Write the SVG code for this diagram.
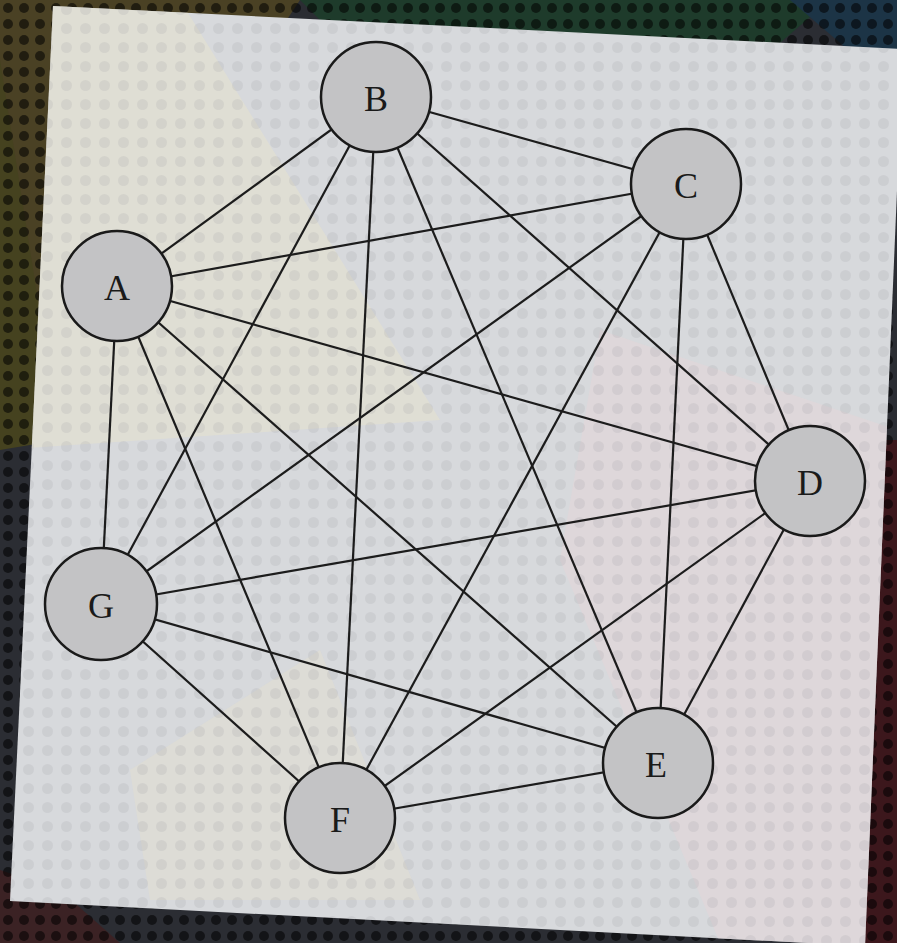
<svg xmlns="http://www.w3.org/2000/svg" width="897" height="943" viewBox="0 0 897 943">
<defs>
<pattern id="dk" width="16" height="16" patternUnits="userSpaceOnUse"><circle cx="8" cy="8" r="5" fill="#000" fill-opacity="0.55"/></pattern>
<pattern id="lt" width="19" height="19" patternUnits="userSpaceOnUse"><circle cx="9.5" cy="9.5" r="5.5" fill="#9a9aa2" fill-opacity="0.18"/></pattern>
<clipPath id="paper"><polygon points="53,6 903,49 865,946 10,901"/></clipPath>
<style>
.edge{stroke:#1c1c1c;stroke-width:2.2;fill:none}
.node circle{fill:#c3c3c5;stroke:#1a1a1a;stroke-width:2.5}
.node text{font-family:"Liberation Serif",serif;font-size:36px;fill:#1a1a1a;text-anchor:middle;dominant-baseline:central}
</style>
</defs>
<rect width="897" height="943" fill="#2b2d33"/>
<polygon points="0,0 300,0 0,450" fill="#4a4124"/>
<polygon points="0,450 0,60 60,440" fill="#45421f"/>
<polygon points="300,0 830,0 760,60 330,30" fill="#1e3b2b"/>
<polygon points="790,0 897,0 897,60 860,60" fill="#1c3446"/>
<polygon points="860,440 897,440 897,943 860,943" fill="#3c171c"/>
<polygon points="0,870 0,943 120,943 60,890" fill="#3b2224"/>
<rect width="897" height="943" fill="url(#dk)"/>
<polygon points="53,6 903,49 865,946 10,901" fill="#d7d9dc"/>
<g clip-path="url(#paper)">
<polygon points="0,0 180,0 440,420 0,450" fill="#e4e1cf" fill-opacity="0.6"/>
<polygon points="600,330 897,430 897,943 720,943 560,560" fill="#e2d6d8" fill-opacity="0.6"/>
<polygon points="130,770 320,650 420,900 150,900" fill="#e4e0d0" fill-opacity="0.5"/>
<rect width="897" height="943" fill="url(#lt)"/>
</g>
<g id="connectors">
<line class="edge" x1="117" y1="286" x2="376" y2="97"/>
<line class="edge" x1="117" y1="286" x2="686" y2="184"/>
<line class="edge" x1="117" y1="286" x2="810" y2="481"/>
<line class="edge" x1="117" y1="286" x2="658" y2="763"/>
<line class="edge" x1="117" y1="286" x2="340" y2="818"/>
<line class="edge" x1="117" y1="286" x2="101" y2="604"/>
<line class="edge" x1="376" y1="97" x2="686" y2="184"/>
<line class="edge" x1="376" y1="97" x2="810" y2="481"/>
<line class="edge" x1="376" y1="97" x2="658" y2="763"/>
<line class="edge" x1="376" y1="97" x2="340" y2="818"/>
<line class="edge" x1="376" y1="97" x2="101" y2="604"/>
<line class="edge" x1="686" y1="184" x2="810" y2="481"/>
<line class="edge" x1="686" y1="184" x2="658" y2="763"/>
<line class="edge" x1="686" y1="184" x2="340" y2="818"/>
<line class="edge" x1="686" y1="184" x2="101" y2="604"/>
<line class="edge" x1="810" y1="481" x2="658" y2="763"/>
<line class="edge" x1="810" y1="481" x2="340" y2="818"/>
<line class="edge" x1="810" y1="481" x2="101" y2="604"/>
<line class="edge" x1="658" y1="763" x2="340" y2="818"/>
<line class="edge" x1="658" y1="763" x2="101" y2="604"/>
<line class="edge" x1="340" y1="818" x2="101" y2="604"/>
</g>
<g id="A" class="node"><circle cx="117" cy="286" r="55"/><text x="117" y="288">A</text></g>
<g id="B" class="node"><circle cx="376" cy="97" r="55"/><text x="376" y="99">B</text></g>
<g id="C" class="node"><circle cx="686" cy="184" r="55"/><text x="686" y="186">C</text></g>
<g id="D" class="node"><circle cx="810" cy="481" r="55"/><text x="810" y="483">D</text></g>
<g id="E" class="node"><circle cx="658" cy="763" r="55"/><text x="656" y="765">E</text></g>
<g id="F" class="node"><circle cx="340" cy="818" r="55"/><text x="340" y="820">F</text></g>
<g id="G" class="node"><circle cx="101" cy="604" r="56"/><text x="101" y="606">G</text></g>
</svg>
